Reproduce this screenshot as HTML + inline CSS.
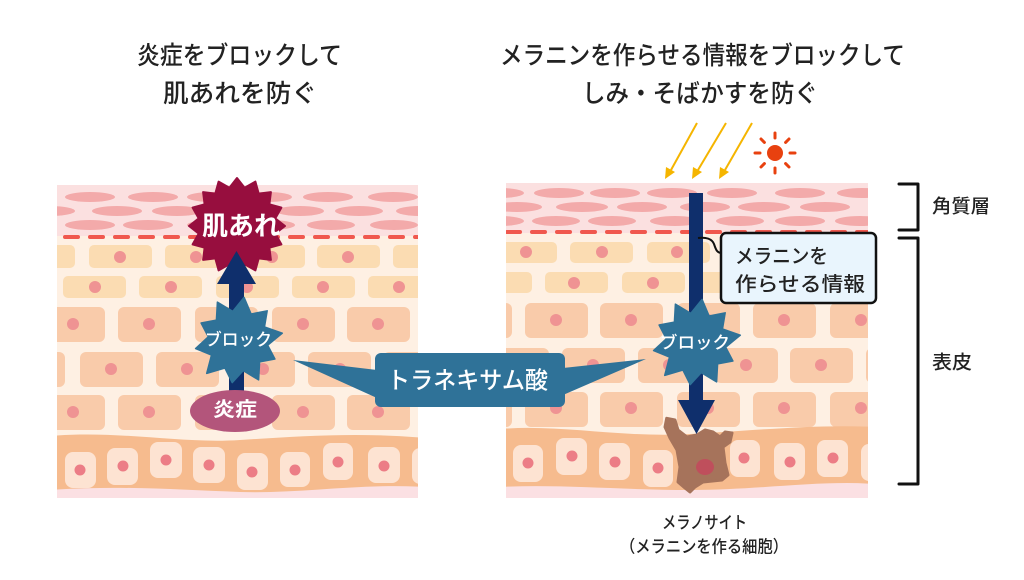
<!DOCTYPE html>
<html><head><meta charset="utf-8">
<style>
html,body{margin:0;padding:0;background:#fff;}
body{width:1024px;height:580px;overflow:hidden;}
svg{display:block;}
</style></head>
<body>
<svg width="1024" height="580" viewBox="0 0 1024 580" xmlns="http://www.w3.org/2000/svg" font-family="'Liberation Sans','Noto Sans CJK JP',sans-serif">
<defs>
<clipPath id="cl"><rect x="57" y="185" width="361" height="313"/></clipPath>
<clipPath id="cr"><rect x="506" y="183" width="362" height="315"/></clipPath>
</defs>

<!-- Titles -->
<g fill="#222" dominant-baseline="central" font-size="25" font-weight="500">
<text x="137" y="56" textLength="205" lengthAdjust="spacingAndGlyphs">炎症をブロックして</text>
<text x="163" y="94" textLength="154" lengthAdjust="spacingAndGlyphs">肌あれを防ぐ</text>
<text x="500" y="56" textLength="405" lengthAdjust="spacingAndGlyphs">メラニンを作らせる情報をブロックして</text>
<text x="582" y="94" textLength="236" lengthAdjust="spacingAndGlyphs">しみ・そばかすを防ぐ</text>
</g>

<!-- LEFT PANEL -->
<g clip-path="url(#cl)">
<rect x="57" y="185" width="361" height="313" fill="#fef0e3"/>
<rect x="57" y="185" width="361" height="51" fill="#fbe0e0"/>
<g fill="#f3aaaa">
<ellipse cx="90" cy="197" rx="25" ry="5"/><ellipse cx="153" cy="197" rx="25" ry="5"/><ellipse cx="212" cy="197" rx="25" ry="5"/><ellipse cx="268" cy="197" rx="24" ry="5"/><ellipse cx="328" cy="197" rx="25" ry="5"/><ellipse cx="393" cy="197" rx="25" ry="5"/>
<ellipse cx="50" cy="211" rx="25" ry="5"/><ellipse cx="117" cy="211" rx="25" ry="5"/><ellipse cx="177" cy="211" rx="25" ry="5"/><ellipse cx="238" cy="211" rx="25" ry="5"/><ellipse cx="300" cy="211" rx="24" ry="5"/><ellipse cx="359" cy="211" rx="24" ry="5"/><ellipse cx="420" cy="211" rx="24" ry="5"/>
<ellipse cx="90" cy="225" rx="25" ry="5"/><ellipse cx="148" cy="225" rx="25" ry="5"/><ellipse cx="212" cy="225" rx="25" ry="5"/><ellipse cx="270" cy="225" rx="25" ry="5"/><ellipse cx="331" cy="225" rx="24" ry="5"/><ellipse cx="394" cy="225" rx="24" ry="5"/>
</g>
<line x1="65" y1="237" x2="418" y2="237" stroke="#f0584e" stroke-width="4" stroke-dasharray="13 12" stroke-linecap="round"/>
<g fill="#fbdcb2">
<rect x="12" y="245" width="63" height="23" rx="5"/><rect x="89" y="245" width="63" height="23" rx="5"/><rect x="165" y="245" width="63" height="23" rx="5"/><rect x="242" y="245" width="63" height="23" rx="5"/><rect x="317" y="245" width="63" height="23" rx="5"/><rect x="393" y="245" width="63" height="23" rx="5"/>
<rect x="-13" y="276" width="63" height="22" rx="5"/><rect x="63" y="276" width="63" height="22" rx="5"/><rect x="139" y="276" width="63" height="22" rx="5"/><rect x="216" y="276" width="63" height="22" rx="5"/><rect x="292" y="276" width="63" height="22" rx="5"/><rect x="368" y="276" width="63" height="22" rx="5"/>
</g>
<g fill="#f9cbaa">
<rect x="42" y="307" width="63" height="35" rx="6"/><rect x="118" y="307" width="63" height="35" rx="6"/><rect x="195" y="307" width="63" height="35" rx="6"/><rect x="272" y="307" width="63" height="35" rx="6"/><rect x="347" y="307" width="63" height="35" rx="6"/>
<rect x="2" y="352" width="63" height="35" rx="6"/><rect x="80" y="352" width="63" height="35" rx="6"/><rect x="156" y="352" width="63" height="35" rx="6"/><rect x="232" y="352" width="63" height="35" rx="6"/><rect x="308" y="352" width="63" height="35" rx="6"/><rect x="383" y="352" width="63" height="35" rx="6"/>
<rect x="42" y="395" width="63" height="35" rx="6"/><rect x="118" y="395" width="63" height="35" rx="6"/><rect x="195" y="395" width="63" height="35" rx="6"/><rect x="272" y="395" width="63" height="35" rx="6"/><rect x="347" y="395" width="63" height="35" rx="6"/>
</g>
<g fill="#ef9393">
<circle cx="120" cy="257" r="6"/><circle cx="196" cy="257" r="6"/><circle cx="272" cy="257" r="6"/><circle cx="348" cy="257" r="6"/><circle cx="424" cy="257" r="6"/>
<circle cx="95" cy="287" r="6"/><circle cx="171" cy="287" r="6"/><circle cx="247" cy="287" r="6"/><circle cx="323" cy="287" r="6"/><circle cx="399" cy="287" r="6"/>
<circle cx="73" cy="324" r="6"/><circle cx="149" cy="324" r="6"/><circle cx="226" cy="324" r="6"/><circle cx="303" cy="324" r="6"/><circle cx="378" cy="324" r="6"/>
<circle cx="111" cy="369" r="6"/><circle cx="187" cy="369" r="6"/><circle cx="263" cy="369" r="6"/><circle cx="340" cy="369" r="6"/><circle cx="415" cy="369" r="6"/>
<circle cx="73" cy="412" r="6"/><circle cx="149" cy="412" r="6"/><circle cx="226" cy="412" r="6"/><circle cx="303" cy="412" r="6"/><circle cx="378" cy="412" r="6"/>
</g>
<rect x="57" y="475" width="361" height="25" fill="#fbe0e3"/>
<path d="M50,436 C120,430 180,444 240,440 C300,436 360,432 425,438 L425,487 C360,483 300,494 240,492 C180,490 120,485 50,490 Z" fill="#f6bb8e"/>
<g fill="#fde3d2">
<rect x="65" y="452" width="31" height="36" rx="8"/><rect x="107" y="448" width="31" height="37" rx="8"/><rect x="150" y="442" width="32" height="36" rx="8"/><rect x="193" y="447" width="32" height="36" rx="8"/><rect x="237" y="453" width="31" height="37" rx="8"/><rect x="280" y="452" width="30" height="35" rx="8"/><rect x="323" y="443" width="30" height="37" rx="8"/><rect x="368" y="447" width="32" height="36" rx="8"/><rect x="412" y="448" width="31" height="36" rx="8"/>
</g>
<g fill="#ec7d86">
<circle cx="80" cy="470" r="5.5"/><circle cx="123" cy="466" r="5.5"/><circle cx="166" cy="460" r="5.5"/><circle cx="209" cy="465" r="5.5"/><circle cx="252" cy="472" r="5.5"/><circle cx="295" cy="470" r="5.5"/><circle cx="338" cy="462" r="5.5"/><circle cx="384" cy="466" r="5.5"/>
</g>
</g>

<!-- Left: red star -->
<g transform="translate(237,226)">
<polygon fill="#970e3e" stroke="#970e3e" stroke-width="2" stroke-linejoin="round" points="0,-48 7.6,-38.3 18.4,-44.4 21.7,-32.4 33.9,-33.9 32.4,-21.7 44.4,-18.4 38.3,-7.6 48,0 38.3,7.6 44.4,18.4 32.4,21.7 33.9,33.9 21.7,32.4 18.4,44.4 7.6,38.3 0,48 -7.6,38.3 -18.4,44.4 -21.7,32.4 -33.9,33.9 -32.4,21.7 -44.4,18.4 -38.3,7.6 -48,0 -38.3,-7.6 -44.4,-18.4 -32.4,-21.7 -33.9,-33.9 -21.7,-32.4 -18.4,-44.4 -7.6,-38.3"/>
</g>
<!-- Left arrow -->
<rect x="229" y="282" width="15" height="112" fill="#0f2f6c"/>
<polygon points="217,284 256,284 236.5,251" fill="#0f2f6c"/>
<text x="202" y="226" font-size="26" font-weight="bold" fill="#fff" dominant-baseline="central" textLength="78" lengthAdjust="spacingAndGlyphs">肌あれ</text>
<!-- Left blue star -->
<g transform="translate(238,341)">
<polygon fill="#2f7298" stroke="#2f7298" stroke-width="1.5" stroke-linejoin="round" points="6.1,-43.6 13.1,-27 29.2,-30.2 26.5,-14.1 44.3,-7.8 29.7,4.2 36.9,18 21.6,20.9 20.6,38.9 5.2,29.6 -5.8,41.6 -13.1,27 -31.3,32.4 -26.5,14.1 -42.4,7.5 -29.7,-4.2 -36.9,-18 -21.6,-20.9 -20.6,-38.9 -5.2,-29.6"/>
</g>
<text x="205" y="340" font-size="17" font-weight="500" fill="#fff" dominant-baseline="central" textLength="67" lengthAdjust="spacingAndGlyphs">ブロック</text>
<!-- Oval -->
<ellipse cx="235" cy="411" rx="45" ry="21" fill="#b3557b"/>
<text x="213" y="410" font-size="20" font-weight="bold" fill="#fff" dominant-baseline="central" textLength="44" lengthAdjust="spacingAndGlyphs">炎症</text>

<!-- RIGHT PANEL -->
<g clip-path="url(#cr)">
<rect x="506" y="183" width="362" height="315" fill="#fef0e3"/>
<rect x="506" y="183" width="362" height="50" fill="#fbe0e0"/>
<g fill="#f3aaaa">
<ellipse cx="500" cy="193" rx="24" ry="5"/><ellipse cx="559" cy="193" rx="25" ry="5"/><ellipse cx="615" cy="193" rx="25" ry="5"/><ellipse cx="672" cy="193" rx="25" ry="5"/><ellipse cx="732" cy="193" rx="25" ry="5"/><ellipse cx="800" cy="193" rx="25" ry="5"/><ellipse cx="862" cy="193" rx="25" ry="5"/>
<ellipse cx="517" cy="207" rx="25" ry="5"/><ellipse cx="582" cy="207" rx="26" ry="5"/><ellipse cx="642" cy="207" rx="25" ry="5"/><ellipse cx="705" cy="207" rx="25" ry="5"/><ellipse cx="764" cy="207" rx="26" ry="5"/><ellipse cx="825" cy="207" rx="25" ry="5"/>
<ellipse cx="500" cy="221" rx="24" ry="5"/><ellipse cx="556" cy="221" rx="24" ry="5"/><ellipse cx="612" cy="221" rx="24" ry="5"/><ellipse cx="675" cy="221" rx="25" ry="5"/><ellipse cx="740" cy="221" rx="24" ry="5"/><ellipse cx="800" cy="221" rx="25" ry="5"/><ellipse cx="860" cy="221" rx="25" ry="5"/>
</g>
<line x1="507" y1="232" x2="868" y2="232" stroke="#f0584e" stroke-width="4" stroke-dasharray="13 12" stroke-linecap="round"/>
<g fill="#fbdcb2">
<rect x="494" y="242" width="63" height="21" rx="5"/><rect x="570" y="242" width="63" height="21" rx="5"/><rect x="647" y="242" width="63" height="21" rx="5"/><rect x="723" y="242" width="63" height="21" rx="5"/><rect x="799" y="242" width="63" height="21" rx="5"/>
<rect x="469" y="272" width="63" height="21" rx="5"/><rect x="545" y="272" width="63" height="21" rx="5"/><rect x="622" y="272" width="63" height="21" rx="5"/><rect x="698" y="272" width="63" height="21" rx="5"/><rect x="774" y="272" width="63" height="21" rx="5"/><rect x="850" y="272" width="63" height="21" rx="5"/>
</g>
<g fill="#f9cbaa">
<rect x="449" y="303" width="63" height="35" rx="6"/><rect x="525" y="303" width="63" height="35" rx="6"/><rect x="600" y="303" width="63" height="35" rx="6"/><rect x="677" y="303" width="63" height="35" rx="6"/><rect x="753" y="303" width="63" height="35" rx="6"/><rect x="830" y="303" width="63" height="35" rx="6"/>
<rect x="486" y="348" width="63" height="35" rx="6"/><rect x="562" y="348" width="63" height="35" rx="6"/><rect x="638" y="348" width="63" height="35" rx="6"/><rect x="715" y="348" width="63" height="35" rx="6"/><rect x="790" y="348" width="63" height="35" rx="6"/><rect x="866" y="348" width="63" height="35" rx="6"/>
<rect x="449" y="392" width="63" height="35" rx="6"/><rect x="525" y="392" width="63" height="35" rx="6"/><rect x="600" y="392" width="63" height="35" rx="6"/><rect x="677" y="392" width="63" height="35" rx="6"/><rect x="753" y="392" width="63" height="35" rx="6"/><rect x="830" y="392" width="63" height="35" rx="6"/>
</g>
<g fill="#ef9393">
<circle cx="526" cy="252" r="6"/><circle cx="602" cy="252" r="6"/><circle cx="677" cy="252" r="6"/><circle cx="754" cy="252" r="6"/><circle cx="830" cy="252" r="6"/>
<circle cx="574" cy="283" r="6"/><circle cx="653" cy="283" r="6"/><circle cx="729" cy="283" r="6"/><circle cx="805" cy="283" r="6"/>
<circle cx="556" cy="320" r="6"/><circle cx="631" cy="320" r="6"/><circle cx="708" cy="320" r="6"/><circle cx="784" cy="320" r="6"/><circle cx="861" cy="320" r="6"/>
<circle cx="593" cy="365" r="6"/><circle cx="669" cy="365" r="6"/><circle cx="746" cy="365" r="6"/><circle cx="821" cy="365" r="6"/>
<circle cx="556" cy="408" r="6"/><circle cx="631" cy="408" r="6"/><circle cx="708" cy="408" r="6"/><circle cx="784" cy="408" r="6"/><circle cx="861" cy="408" r="6"/>
</g>
<rect x="506" y="470" width="362" height="30" fill="#fbe0e3"/>
<path d="M500,429 C560,424 620,438 690,434 C760,430 820,424 875,427 L875,484 C820,480 760,490 690,490 C620,490 560,484 500,487 Z" fill="#f6bb8e"/>
<g fill="#fde3d2">
<rect x="513" y="445" width="30" height="37" rx="8"/><rect x="556" y="438" width="31" height="37" rx="8"/><rect x="599" y="443" width="31" height="37" rx="8"/><rect x="643" y="450" width="30" height="37" rx="8"/><rect x="687" y="445" width="31" height="37" rx="8"/><rect x="730" y="440" width="30" height="37" rx="8"/><rect x="774" y="443" width="31" height="37" rx="8"/><rect x="817" y="440" width="31" height="37" rx="8"/><rect x="861" y="444" width="31" height="37" rx="8"/>
</g>
<g fill="#ec7d86">
<circle cx="528" cy="463" r="5.5"/><circle cx="572" cy="456" r="5.5"/><circle cx="615" cy="462" r="5.5"/><circle cx="658" cy="468" r="5.5"/><circle cx="744" cy="458" r="5.5"/><circle cx="790" cy="462" r="5.5"/><circle cx="833" cy="458" r="5.5"/>
</g>
<!-- melanocyte -->
<path d="M666.7,418.3 L675,420 L678,430 L687,437 L697,435 L705,430 L713,432 L720,437 L725,432 L732,433 L730,442 L723,447 L725,463 L728,475 L722,480 L703,482 L695,487 L690,492 L685,488 L678,482 L680,467 L677,450 L670,438 L665,427 Z" fill="#a6735b" stroke="#a6735b" stroke-width="3" stroke-linejoin="round"/>
<ellipse cx="705" cy="467" rx="9" ry="8" fill="#bf4f5c"/>
</g>

<!-- Sun rays -->
<g stroke="#f5b500" stroke-width="2" fill="#f5b500">
<line x1="697" y1="123" x2="671" y2="170"/><polygon points="665,179 666,167 675,172" stroke="none"/>
<line x1="726" y1="123" x2="698" y2="170"/><polygon points="692,179 693,167 702,172" stroke="none"/>
<line x1="752" y1="123" x2="725" y2="170"/><polygon points="719,179 720,167 729,172" stroke="none"/>
</g>
<!-- Sun -->
<g fill="#e8410f">
<circle cx="775" cy="153" r="8"/>
</g>
<g stroke="#e8410f" stroke-width="3" stroke-linecap="round">
<line x1="775" y1="138" x2="775" y2="133"/>
<line x1="775" y1="168" x2="775" y2="173"/>
<line x1="760" y1="153" x2="755" y2="153"/>
<line x1="790" y1="153" x2="795" y2="153"/>
<line x1="764.4" y1="142.4" x2="761" y2="139"/>
<line x1="785.6" y1="142.4" x2="789" y2="139"/>
<line x1="764.4" y1="163.6" x2="761" y2="167"/>
<line x1="785.6" y1="163.6" x2="789" y2="167"/>
</g>

<!-- Right arrow -->
<rect x="689" y="193" width="14" height="210" fill="#0f2f6c"/>
<polygon points="678,400 715,400 696.5,434" fill="#0f2f6c"/>
<!-- connector -->
<path d="M698,238 C706,237 712,239 714,244 C716,250 717,253 722,253" fill="none" stroke="#111" stroke-width="2"/>
<!-- callout -->
<rect x="721" y="233" width="155" height="70" rx="5" fill="#e9f5fd" stroke="#111" stroke-width="2.5"/>
<g font-size="20" fill="#222" dominant-baseline="central" font-weight="500">
<text x="735" y="257" textLength="93" lengthAdjust="spacingAndGlyphs">メラニンを</text>
<text x="735" y="285" textLength="130" lengthAdjust="spacingAndGlyphs">作らせる情報</text>
</g>
<!-- Right blue star -->
<g transform="translate(696,343)">
<polygon fill="#2f7298" stroke="#2f7298" stroke-width="1.5" stroke-linejoin="round" points="6.1,-43.6 13.1,-27 29.2,-30.2 26.5,-14.1 44.3,-7.8 29.7,4.2 36.9,18 21.6,20.9 20.6,38.9 5.2,29.6 -5.8,41.6 -13.1,27 -31.3,32.4 -26.5,14.1 -42.4,7.5 -29.7,-4.2 -36.9,-18 -21.6,-20.9 -20.6,-38.9 -5.2,-29.6"/>
</g>
<text x="660" y="343" font-size="17" font-weight="500" fill="#fff" dominant-baseline="central" textLength="70" lengthAdjust="spacingAndGlyphs">ブロック</text>

<!-- Tranexamic acid callout -->
<polygon points="293,360 377,370 377,398" fill="#2f7298"/>
<polygon points="646,359 563,368 563,395" fill="#2f7298"/>
<rect x="375" y="353" width="190" height="54" rx="6" fill="#2f7298"/>
<text x="387" y="381" font-size="24" font-weight="500" fill="#fff" dominant-baseline="central" textLength="161" lengthAdjust="spacingAndGlyphs">トラネキサム酸</text>

<!-- Brackets -->
<g fill="none" stroke="#111" stroke-width="3" stroke-linecap="round" stroke-linejoin="round">
<polyline points="899,184 918,184 918,230 899,230"/>
<polyline points="899,238 918,238 918,484 899,484"/>
</g>
<g fill="#222" dominant-baseline="central" font-size="19" font-weight="500">
<text x="932" y="207" textLength="58" lengthAdjust="spacingAndGlyphs">角質層</text>
<text x="932" y="363" textLength="40" lengthAdjust="spacingAndGlyphs">表皮</text>
</g>

<!-- Bottom labels -->
<g fill="#222" dominant-baseline="central" font-size="17" font-weight="500">
<text x="662" y="523" textLength="85" lengthAdjust="spacingAndGlyphs">メラノサイト</text>
<text x="620" y="547" textLength="168" lengthAdjust="spacingAndGlyphs">（メラニンを作る細胞）</text>
</g>
</svg>
</body></html>
